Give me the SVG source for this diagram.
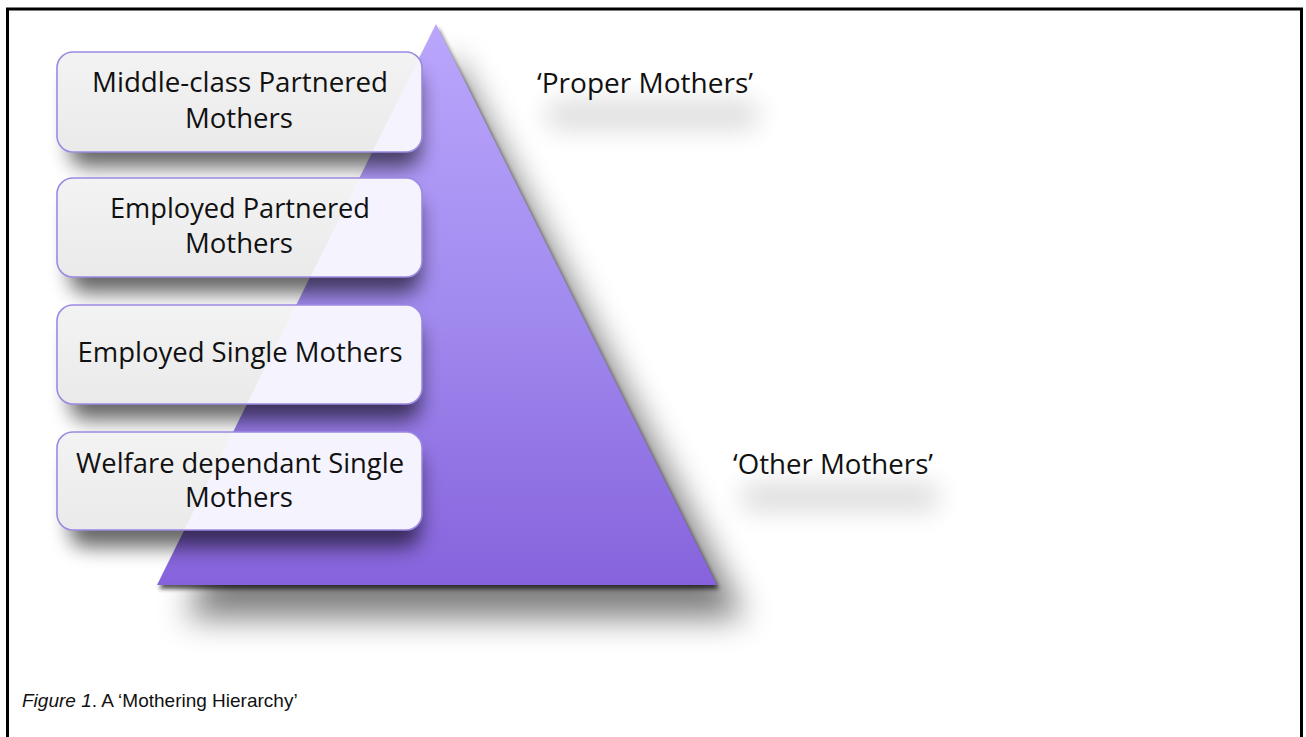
<svg xmlns="http://www.w3.org/2000/svg" width="1306" height="737" viewBox="0 0 1306 737">
  <defs>
    <linearGradient id="triGrad" x1="0" y1="0" x2="0" y2="1">
      <stop offset="0" stop-color="#bba6fc"/>
      <stop offset="0.5" stop-color="#a28bef"/>
      <stop offset="1" stop-color="#8663dc"/>
    </linearGradient>
    <linearGradient id="boxGrad" x1="0" y1="0" x2="0" y2="1">
      <stop offset="0" stop-color="#f3f3f3"/>
      <stop offset="1" stop-color="#eaeaea"/>
    </linearGradient>
    <filter id="triShadow" x="-30%" y="-30%" width="160%" height="160%">
      <feGaussianBlur stdDeviation="16"/>
    </filter>
    <filter id="tightShadow" x="-10%" y="-10%" width="120%" height="120%">
      <feGaussianBlur stdDeviation="2"/>
    </filter>
    <filter id="boxShadow" x="-20%" y="-40%" width="140%" height="200%">
      <feGaussianBlur stdDeviation="10"/>
    </filter>
    <filter id="glow" x="-40%" y="-150%" width="180%" height="400%">
      <feGaussianBlur stdDeviation="13"/>
    </filter>
    <clipPath id="triClip">
      <polygon points="436,24 157,585 717,585"/>
    </clipPath>
    <style>
      .box { stroke: #9d89e2; stroke-width: 1.6; }
      .lbl { font-family: "Open Sans", "Lato", sans-serif; font-size: 26.5px; fill: #111; text-anchor: middle; }
      .side { font-family: "Open Sans", "Lato", sans-serif; font-size: 26.5px; fill: #111; }
      .cap { font-family: "Liberation Sans", Arial, sans-serif; font-size: 19px; fill: #111; }
    </style>
  </defs>

  <rect x="0" y="0" width="1306" height="737" fill="#ffffff"/>
  <rect x="7.5" y="9" width="1294" height="745" fill="none" stroke="#000" stroke-width="3"/>

  <g id="label-glows">
    <rect x="545" y="100" width="215" height="30" rx="15" fill="#000" opacity="0.13" filter="url(#glow)"/>
    <rect x="740" y="482" width="200" height="30" rx="15" fill="#000" opacity="0.13" filter="url(#glow)"/>
  </g>

  <g id="pyramid">
    <polygon points="452,55 185,618 745,618" fill="#000" opacity="0.5" filter="url(#triShadow)"/>
    <polygon points="438,28 159,589 719,589" fill="#000" opacity="0.65" filter="url(#tightShadow)"/>
    <polygon points="436,24 157,585 717,585" fill="url(#triGrad)"/>
  </g>

  <g id="box-shadows">
    <rect x="70" y="72" width="350" height="95" rx="15" fill="#000" opacity="0.6" filter="url(#boxShadow)"/>
    <rect x="70" y="198" width="350" height="95" rx="15" fill="#000" opacity="0.6" filter="url(#boxShadow)"/>
    <rect x="70" y="325" width="350" height="95" rx="15" fill="#000" opacity="0.6" filter="url(#boxShadow)"/>
    <rect x="70" y="452" width="350" height="95" rx="15" fill="#000" opacity="0.6" filter="url(#boxShadow)"/>
  </g>

  <g id="node-middle-class">
    <rect x="57" y="52" width="365" height="100" rx="16" fill="url(#boxGrad)"/>
    <g clip-path="url(#triClip)"><rect x="57" y="52" width="365" height="100" rx="16" fill="#f5f3fd"/></g>
    <rect class="box" x="57" y="52" width="365" height="100" rx="16" fill="none"/>
    <text class="lbl" x="240" y="92" textLength="296" lengthAdjust="spacingAndGlyphs">Middle-class Partnered</text>
    <text class="lbl" x="239" y="128" textLength="108" lengthAdjust="spacingAndGlyphs">Mothers</text>
  </g>

  <g id="node-employed-partnered">
    <rect x="57" y="178" width="365" height="99" rx="16" fill="url(#boxGrad)"/>
    <g clip-path="url(#triClip)"><rect x="57" y="178" width="365" height="99" rx="16" fill="#f5f3fd"/></g>
    <rect class="box" x="57" y="178" width="365" height="99" rx="16" fill="none"/>
    <text class="lbl" x="240" y="218" textLength="260" lengthAdjust="spacingAndGlyphs">Employed Partnered</text>
    <text class="lbl" x="239" y="253" textLength="108" lengthAdjust="spacingAndGlyphs">Mothers</text>
  </g>

  <g id="node-employed-single">
    <rect x="57" y="305" width="365" height="99" rx="16" fill="url(#boxGrad)"/>
    <g clip-path="url(#triClip)"><rect x="57" y="305" width="365" height="99" rx="16" fill="#f5f3fd"/></g>
    <rect class="box" x="57" y="305" width="365" height="99" rx="16" fill="none"/>
    <text class="lbl" x="240" y="362" textLength="325" lengthAdjust="spacingAndGlyphs">Employed Single Mothers</text>
  </g>

  <g id="node-welfare">
    <rect x="57" y="432" width="365" height="98" rx="16" fill="url(#boxGrad)"/>
    <g clip-path="url(#triClip)"><rect x="57" y="432" width="365" height="98" rx="16" fill="#f5f3fd"/></g>
    <rect class="box" x="57" y="432" width="365" height="98" rx="16" fill="none"/>
    <text class="lbl" x="240" y="473" textLength="328" lengthAdjust="spacingAndGlyphs">Welfare dependant Single</text>
    <text class="lbl" x="239" y="507" textLength="108" lengthAdjust="spacingAndGlyphs">Mothers</text>
  </g>

  <g id="label-proper">
    <text class="side" x="537" y="93" textLength="216" lengthAdjust="spacingAndGlyphs">‘Proper Mothers’</text>
  </g>

  <g id="label-other">
    <text class="side" x="733" y="474" textLength="200" lengthAdjust="spacingAndGlyphs">‘Other Mothers’</text>
  </g>

  <g id="connectors"></g>

  <text class="cap" x="22" y="707"><tspan font-style="italic">Figure 1</tspan>. A ‘Mothering Hierarchy’</text>
</svg>
